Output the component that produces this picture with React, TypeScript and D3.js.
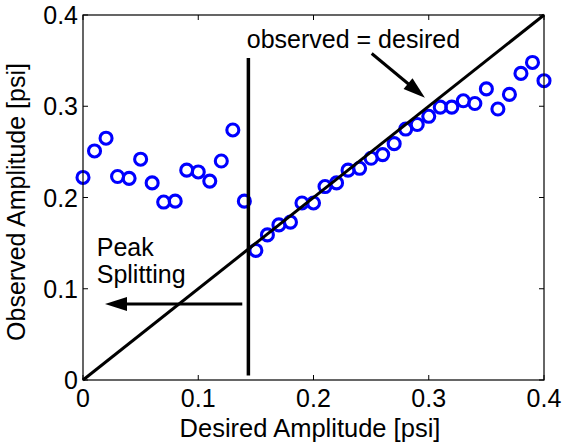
import React from "react";
import * as d3 from "d3";

// Desired amplitude (psi) for each measurement
const desired: number[] = [
  0.0, 0.01, 0.02, 0.03, 0.04, 0.05, 0.06, 0.07, 0.08, 0.09,
  0.1, 0.11, 0.12, 0.13, 0.14, 0.15, 0.16, 0.17, 0.18, 0.19,
  0.2, 0.21, 0.22, 0.23, 0.24, 0.25, 0.26, 0.27, 0.28, 0.29,
  0.3, 0.31, 0.32, 0.33, 0.34, 0.35, 0.36, 0.37, 0.38, 0.39, 0.4,
];

// Observed amplitude (psi)
const observed: number[] = [
  0.222, 0.251, 0.265, 0.223, 0.221, 0.242, 0.216, 0.195, 0.196, 0.23,
  0.228, 0.218, 0.24, 0.274, 0.196, 0.142, 0.159, 0.17, 0.173, 0.194,
  0.194, 0.212, 0.216, 0.23, 0.232, 0.243, 0.247, 0.259, 0.275, 0.28,
  0.289, 0.299, 0.299, 0.306, 0.303, 0.319, 0.297, 0.313, 0.336, 0.348, 0.328,
];

const xTicks: number[] = [0, 0.1, 0.2, 0.3, 0.4];
const yTicks: number[] = [0, 0.1, 0.2, 0.3, 0.4];

// Peak-splitting threshold marker
const splitX = 0.1435;
const splitY: [number, number] = [0.005, 0.353];

// Annotation arrows: [x1, y1] -> [x2, y2] in data units
const splitArrow: [number, number, number, number] = [0.1382, 0.0832, 0.0191, 0.0832];
const diagArrow: [number, number, number, number] = [0.2505, 0.3578, 0.2967, 0.3094];

const W = 563;
const H = 446;
const FONT = "'Liberation Sans', Arial, Helvetica, sans-serif";

export default function App() {
  const x = d3.scaleLinear().domain([0, 0.4]).range([83, 544]);
  const y = d3.scaleLinear().domain([0, 0.4]).range([380, 15]);
  const [x0, x1] = x.range();
  const [y0, y1] = y.range();
  const tickLen = 5;

  const arrow = (a: [number, number, number, number], headLen: number, headHalf: number) => {
    const sx = x(a[0]), sy = y(a[1]), ex = x(a[2]), ey = y(a[3]);
    const dx = ex - sx, dy = ey - sy;
    const len = Math.hypot(dx, dy);
    const ux = dx / len, uy = dy / len;
    const bx = ex - ux * headLen, by = ey - uy * headLen;
    const px = -uy, py = ux;
    return {
      line: `M${sx},${sy}L${bx + ux},${by + uy}`,
      head: `M${ex},${ey}L${bx + px * headHalf},${by + py * headHalf}L${bx - px * headHalf},${by - py * headHalf}Z`,
    };
  };

  const a1 = arrow(splitArrow, 22, 7);
  const a2 = arrow(diagArrow, 22, 7);

  const diag = d3.line<number>().x((d) => x(d)).y((d) => y(d))([0, 0.4]) || "";

  return (
    <svg
      width={W}
      height={H}
      style={{ position: "absolute", left: 0, top: 0, background: "#fff", display: "block" }}
      fontFamily={FONT}
    >
      <rect width={W} height={H} fill="#fff" />

      {/* Ticks on all four sides, pointing inward */}
      <g stroke="#000" strokeWidth={1}>
        {xTicks.map((t) => (
          <g key={"xt" + t}>
            <line x1={x(t)} x2={x(t)} y1={y0} y2={y0 - tickLen} />
            <line x1={x(t)} x2={x(t)} y1={y1} y2={y1 + tickLen} />
          </g>
        ))}
        {yTicks.map((t) => (
          <g key={"yt" + t}>
            <line x1={x0} x2={x0 + tickLen} y1={y(t)} y2={y(t)} />
            <line x1={x1} x2={x1 - tickLen} y1={y(t)} y2={y(t)} />
          </g>
        ))}
      </g>

      {/* Data markers */}
      <g fill="none" stroke="#0000ff" strokeWidth={3.1}>
        {desired.map((d, i) => (
          <circle key={i} cx={x(d)} cy={y(observed[i])} r={6} />
        ))}
      </g>

      {/* observed = desired reference line */}
      <path d={diag} stroke="#000" strokeWidth={3} fill="none" />

      {/* Peak splitting threshold */}
      <line
        x1={x(splitX)}
        x2={x(splitX)}
        y1={y(splitY[0])}
        y2={y(splitY[1])}
        stroke="#000"
        strokeWidth={3.5}
      />

      {/* Arrows */}
      <g>
        <path d={a1.line} stroke="#000" strokeWidth={3} fill="none" />
        <path d={a1.head} fill="#000" />
        <path d={a2.line} stroke="#000" strokeWidth={3} fill="none" />
        <path d={a2.head} fill="#000" />
      </g>

      {/* Axes box */}
      <rect x={x0} y={y1} width={x1 - x0} height={y0 - y1} fill="none" stroke="#000" strokeWidth={1.2} />

      {/* Tick labels */}
      <g fontSize={25} fill="#000">
        {xTicks.map((t) => (
          <text key={"xl" + t} x={x(t)} y={407} textAnchor="middle">
            {d3.format("~g")(t)}
          </text>
        ))}
        {yTicks.map((t) => (
          <text key={"yl" + t} x={x0 - 5} y={y(t) + 9} textAnchor="end">
            {d3.format("~g")(t)}
          </text>
        ))}
      </g>

      {/* Axis titles */}
      <text x={310} y={437} textAnchor="middle" fontSize={25.5} fill="#000">
        Desired Amplitude [psi]
      </text>
      <text
        transform={`translate(25,202) rotate(-90)`}
        textAnchor="middle"
        fontSize={25}
        fill="#000"
      >
        Observed Amplitude [psi]
      </text>

      {/* Annotations */}
      <text x={x(0.1421)} y={y(0.3633)} fontSize={25} fill="#000">
        observed = desired
      </text>
      <text x={x(0.0119)} y={y(0.1358)} fontSize={25} fill="#000">
        Peak
      </text>
      <text x={x(0.0119)} y={y(0.106)} fontSize={25} fill="#000">
        Splitting
      </text>
    </svg>
  );
}
